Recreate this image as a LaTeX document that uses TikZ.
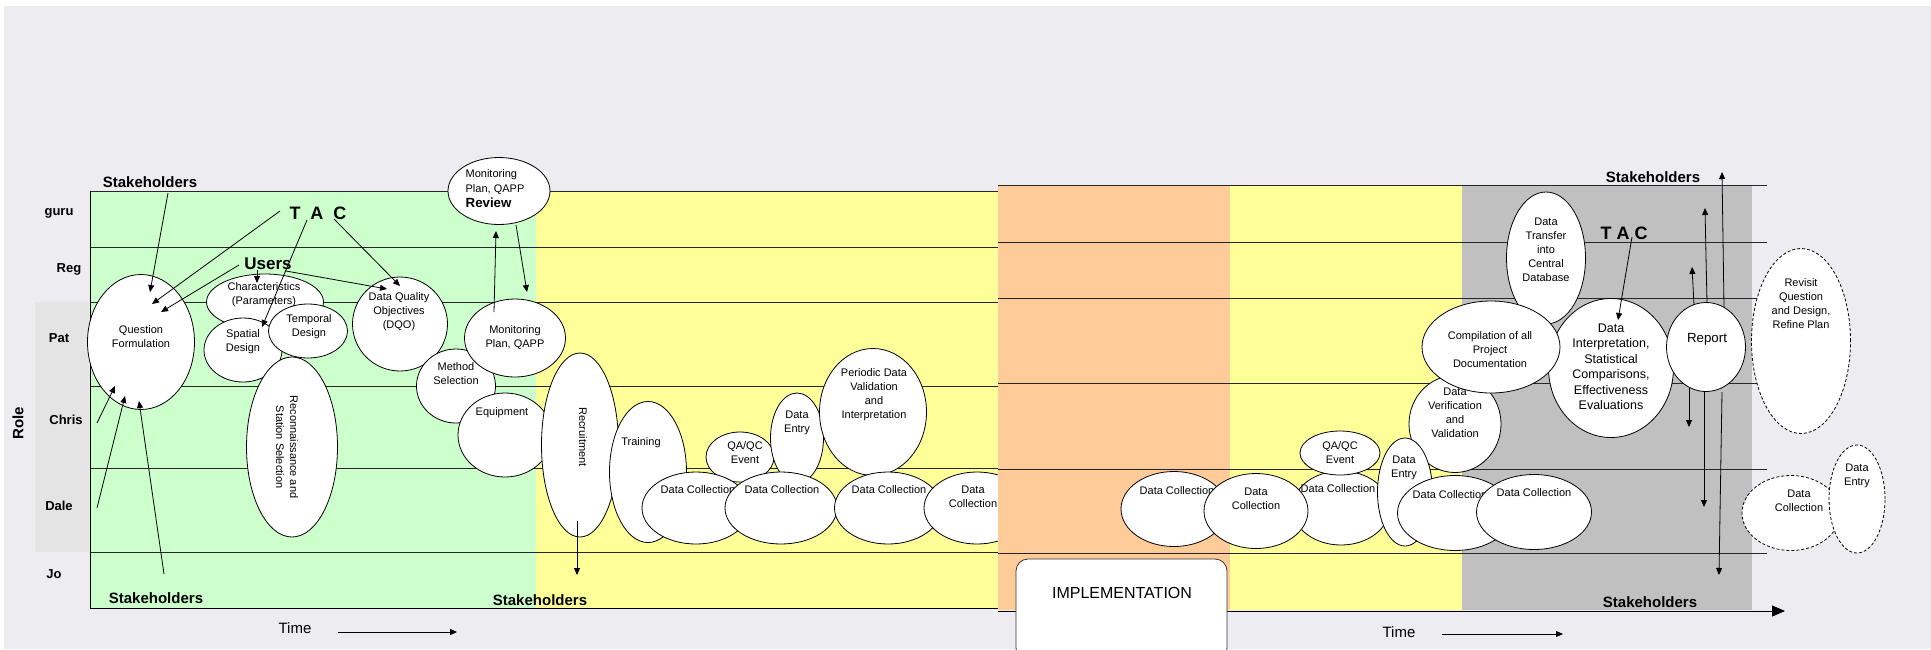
\documentclass[tikz,border=0pt]{standalone}
\usepackage{fontspec}
\setmainfont{Liberation Sans}
\usetikzlibrary{shapes.geometric,arrows.meta}
\definecolor{bgc}{RGB}{237,237,241}
\definecolor{grn}{RGB}{204,255,204}
\definecolor{yel}{RGB}{255,255,153}
\definecolor{org}{RGB}{255,204,153}
\definecolor{gry}{RGB}{192,192,192}
\definecolor{stip}{RGB}{228,228,228}
\tikzset{
  bub/.style={ellipse, draw=black, fill=white, line width=0.8pt, inner sep=0pt},
  dbub/.style={bub, dash pattern=on 3pt off 2pt},
  wh/.style 2 args={minimum width=#1pt, minimum height=#2pt},
  txt/.style={align=center, inner sep=0pt, font=\fontsize{11}{14}\selectfont},
  lab/.style={inner sep=0pt, font=\fontsize{13}{15}\selectfont\bfseries},
  big/.style={inner sep=0pt, font=\fontsize{15}{17}\selectfont\bfseries},
  tacf/.style={inner sep=0pt, font=\fontsize{18}{20}\selectfont\bfseries},
  timef/.style={inner sep=0pt, font=\fontsize{15}{17}\selectfont},
  arr/.style={-{Triangle[length=7pt,width=6pt]}, line width=0.8pt},
  rowline/.style={line width=0.8pt, draw=black!85},
}
\begin{document}
\begin{tikzpicture}[x=1pt,y=-1pt]
\useasboundingbox (0,0) rectangle (1931,649);
\fill[bgc] (0,0) rectangle (1931,649);
\fill[white] (0,0) rectangle (1931,6);
\fill[white] (0,0) rectangle (4,649);

% ---------- left section ----------
\fill[stip] (35,302) rectangle (89,552);
\fill[grn] (90,191) rectangle (536,608);
\fill[yel] (536,191) rectangle (998,608);
\foreach \yy in {191,247,302,386,468,552}
  \draw[rowline] (90,\yy) -- (998,\yy);
\draw[line width=0.9pt] (90,191) -- (90,608) -- (998,608);

% row labels
\node[lab] (guru) at (59,213) {guru};
\node[lab] (reg) at (69,269) {Reg};
\node[lab] (pat) at (59,338) {Pat};
\node[lab] (chris) at (66,420) {Chris};
\node[lab] (dale) at (59,506) {Dale};
\node[lab] (jo) at (54,574) {Jo};
\node[big, rotate=90] (role) at (18,423) {Role};

% ellipses, left
\node[bub,wh={107}{135}] (qf) at (141,342) {};
\node[txt] (qft) at (141,337) {Question\\Formulation};
\node[bub,wh={117}{56}] (char) at (265,302) {};
\node[txt] (chart) at (264,295) {Characteristics\\(Parameters)};
\node[bub,wh={78}{64}] (spat) at (243,350) {};
\node[txt] (spatt) at (243,342) {Spatial\\Design};
\node[bub,wh={79}{54}] (temp) at (308,331) {};
\node[txt] (tempt) at (309,327) {Temporal\\Design};
\node[bub,wh={91}{180}] (recon) at (292,447) {};
\node[txt, rotate=-90] (recont) at (287,447) {Reconnaissance and\\Station Selection};
\node[bub,wh={95}{94}] (dqo) at (400,324) {};
\node[txt] (dqot) at (399,312) {Data Quality\\Objectives\\(DQO)};
\node[bub,wh={102}{67}] (rev) at (499,191) {};
\node[inner sep=0pt, align=left, font=\fontsize{11}{15}\selectfont] (revt) at (495,189)
  {Monitoring\\Plan, QAPP\\{\fontsize{13.3}{15}\selectfont\bfseries Review}};
\node[bub,wh={79}{74}] (meth) at (456,386) {};
\node[txt] (metht) at (456,374) {Method\\Selection};
\node[bub,wh={101}{78}] (mpq) at (515,338) {};
\node[txt] (mpqt) at (515,338) {Monitoring\\Plan, QAPP};
\node[bub,wh={94}{84}] (equip) at (505,435) {};
\node[txt] (equipt) at (502,413) {Equipment};
\node[bub,wh={77}{184}] (recr) at (580,445) {};
\node[txt, rotate=-90] (recrt) at (583,437) {Recruitment};
\node[bub,wh={77}{141}] (train) at (648,472) {};
\node[txt] (traint) at (641,443) {Training};
\node[bub,wh={68}{50}] (qa1) at (740,457) {};
\node[txt] (qa1t) at (745,453) {QA/QC\\Event};
\node[bub,wh={53}{90}] (de1) at (797,438) {};
\node[txt] (de1t) at (797,423) {Data\\Entry};
\node[bub,wh={108}{72}] (dc1) at (696,508) {};
\node[txt] (dc1t) at (698,490) {Data Collection};
\node[bub,wh={112}{72}] (dc2) at (781,508) {};
\node[txt] (dc2t) at (782,490) {Data Collection};
\node[bub,wh={107}{127}] (per) at (873,412) {};
\node[txt] (pert) at (874,395) {Periodic Data\\Validation\\and\\Interpretation};
\node[bub,wh={107}{72}] (dc3) at (888,508) {};
\node[txt] (dc3t) at (889,490) {Data Collection};
\node[bub,wh={106}{72}] (dc4) at (977,508) {};
\node[txt] (dc4t) at (973,497) {Data\\Collection};

% ---------- right section ----------
\fill[org] (998,185) rectangle (1230,610);
\fill[yel] (1230,185) rectangle (1462,610);
\fill[gry] (1462,185) rectangle (1752,610);
\foreach \yy in {185,242,298,383,469,553}
  \draw[rowline] (998,\yy) -- (1767,\yy);
\draw[line width=0.9pt, -{Triangle[length=13pt,width=11pt]}] (998,611) -- (1785,611);

\node[draw=black!80, line width=0.8pt, fill=white, rounded corners=12pt, wh={211}{101}] (impl) at (1121.5,609.5) {};
\node[inner sep=0pt, font=\fontsize{16}{18}\selectfont] (implt) at (1122,593) {IMPLEMENTATION};

\node[bub,wh={106}{75}] (dco1) at (1174,509) {};
\node[txt] (dco1t) at (1177,491) {Data Collection};
\node[bub,wh={97}{74}] (dco3) at (1341,508) {};
\node[txt] (dco3t) at (1338,489) {Data Collection};
\node[bub,wh={80}{44}] (qa2) at (1340,453) {};
\node[txt] (qa2t) at (1340,453) {QA/QC\\Event};
\node[bub,wh={104}{75}] (dco2) at (1256,511) {};
\node[txt] (dco2t) at (1256,499) {Data\\Collection};
\node[bub,wh={92}{97}] (ver) at (1455,424) {};
\node[txt] (vert) at (1455,413) {Data\\Verification\\and\\Validation};
\node[bub,wh={55}{108}] (de2) at (1405,492) {};
\node[txt] (de2t) at (1404,468) {Data\\Entry};
\node[bub,wh={115}{75}] (dcg1) at (1455,513) {};
\node[txt] (dcg1t) at (1450,495) {Data Collection};
\node[bub,wh={115}{75}] (dcg2) at (1534,512) {};
\node[txt] (dcg2t) at (1534,493) {Data Collection};
\node[bub,wh={79}{132}] (dtr) at (1546,258) {};
\node[txt] (dtrt) at (1546,250) {Data\\Transfer\\into\\Central\\Database};
\node[bub,wh={125}{139}] (dint) at (1611,368) {};
\node[txt, font=\fontsize{12.5}{15.5}\selectfont] (dintt) at (1611,367) {Data\\Interpretation,\\Statistical\\Comparisons,\\Effectiveness\\Evaluations};
\node[bub,wh={138}{92}] (comp) at (1491,347) {};
\node[txt] (compt) at (1490,350) {Compilation of all\\Project\\Documentation};
\node[bub,wh={79}{89}] (rep) at (1706,347) {};
\node[txt, font=\fontsize{13.3}{15}\selectfont] (rept) at (1707,339) {Report};
\node[dbub,wh={99}{185}] (revis) at (1801,341) {};
\node[txt] (revist) at (1801,304) {Revisit\\Question\\and Design,\\Refine Plan};
\node[dbub,wh={98}{75}] (dcd) at (1791,513) {};
\node[txt] (dcdt) at (1799,501) {Data\\Collection};
\node[dbub,wh={56}{108}] (ded) at (1857,499) {};
\node[txt] (dedt) at (1857,476) {Data\\Entry};

% ---------- texts ----------
\node[big] (stTL) at (150,182) {Stakeholders};
\node[big] (stBL) at (156,598) {Stakeholders};
\node[big] (stBM) at (540,600) {Stakeholders};
\node[big] (stTR) at (1653,177) {Stakeholders};
\node[big] (stBR) at (1650,602) {Stakeholders};
\node[tacf] (tac1) at (318,213) {T\ \ A\ \ C};
\node[inner sep=0pt, font=\fontsize{17}{19}\selectfont\bfseries] (users) at (268,264) {Users};
\node[tacf] (tac2) at (1624,233) {T A C};
\node[timef] (time1) at (295,628) {Time};
\node[timef] (time2) at (1399,632) {Time};

% ---------- arrow end points ----------
\coordinate (a1s) at (168,193);  \coordinate (a1e) at (150,292);
\coordinate (a2s) at (280,211);  \coordinate (a2e) at (152,304);
\coordinate (a3s) at (239,265);  \coordinate (a3e) at (161,312);
\coordinate (a4s) at (307,220);  \coordinate (a4e) at (262,327);
\coordinate (a5s) at (334,219);  \coordinate (a5e) at (400,286);
\coordinate (a6s) at (257,270);  \coordinate (a6e) at (257,283);
\coordinate (a7s) at (286,271);  \coordinate (a7e) at (387,289);
\coordinate (b1s) at (97,423);   \coordinate (b1e) at (115,386);
\coordinate (b2s) at (97,508);   \coordinate (b2e) at (125,396);
\coordinate (b3s) at (164,574);  \coordinate (b3e) at (139,401);
\coordinate (m1s) at (494,312);  \coordinate (m1e) at (496,231);
\coordinate (m2s) at (516,225);  \coordinate (m2e) at (527,292);
\coordinate (r1s) at (577,521);  \coordinate (r1e) at (577,575);
\coordinate (t1s) at (338,632);  \coordinate (t1e) at (457,632);
\coordinate (t2s) at (1442,634); \coordinate (t2e) at (1563,634);
\coordinate (c1s) at (1632,237); \coordinate (c1e) at (1618,320);
\coordinate (u1s) at (1694,305); \coordinate (u1e) at (1692,267);
\coordinate (u2s) at (1707,303); \coordinate (u2e) at (1705,208);
\coordinate (u3s) at (1724,307); \coordinate (u3e) at (1722,172);
\coordinate (d1s) at (1689,388); \coordinate (d1e) at (1689,427);
\coordinate (d2s) at (1704,392); \coordinate (d2e) at (1704,507);
\coordinate (d3s) at (1722,392); \coordinate (d3e) at (1719,575);

\foreach \s/\e in {a1s/a1e,a2s/a2e,a3s/a3e,a4s/a4e,a5s/a5e,a6s/a6e,a7s/a7e,
  b1s/b1e,b2s/b2e,b3s/b3e,m1s/m1e,m2s/m2e,r1s/r1e,t1s/t1e,t2s/t2e,c1s/c1e,
  u1s/u1e,u2s/u2e,u3s/u3e,d1s/d1e,d2s/d2e,d3s/d3e}
  \draw[arr] (\s) -- (\e);
\end{tikzpicture}
\end{document}
